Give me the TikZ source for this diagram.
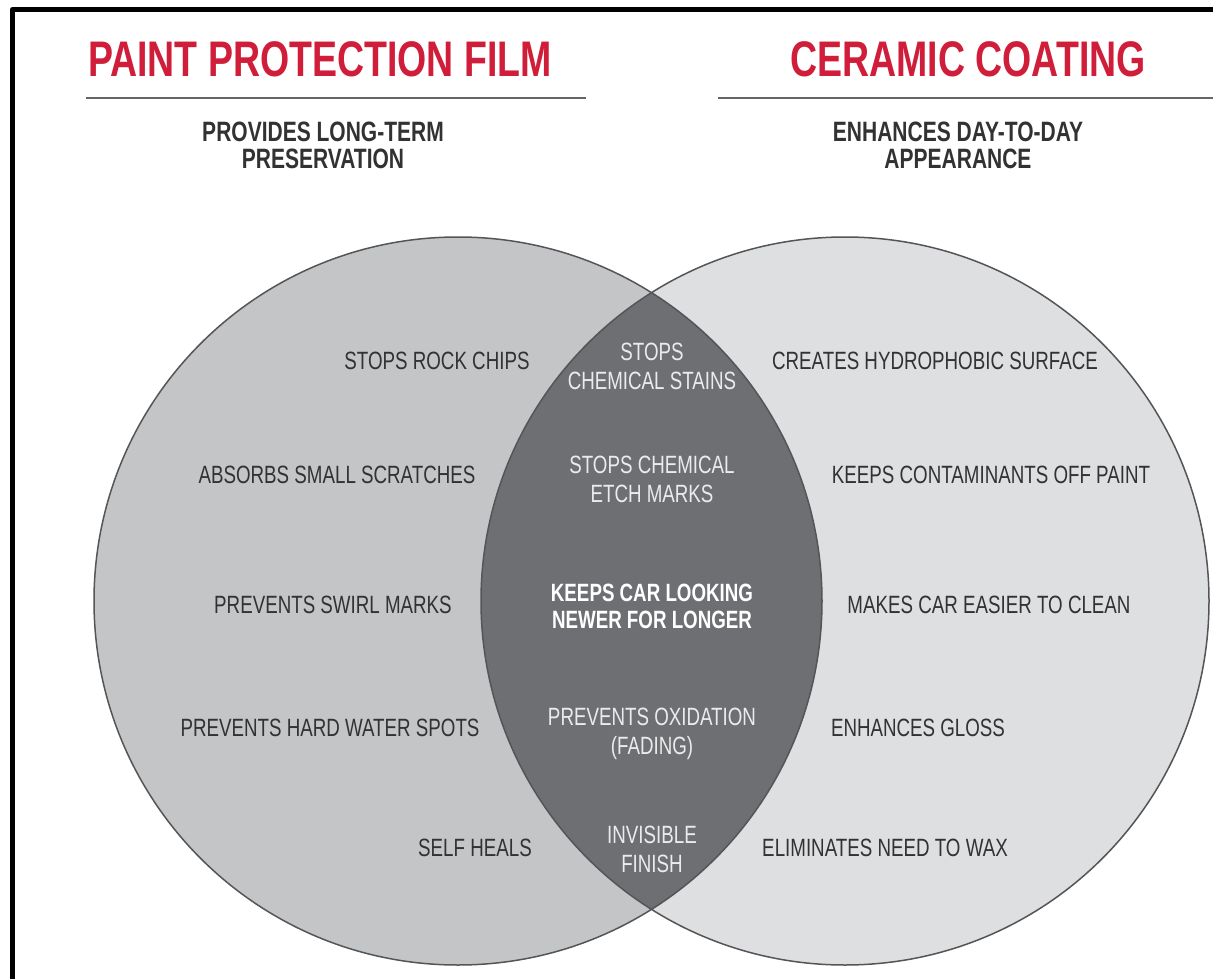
\documentclass[tikz,border=0pt]{standalone}
\usepackage{fontspec}
\setmainfont{Liberation Sans}[FakeStretch=0.75]
\usepackage{xcolor}

\definecolor{pfred}{RGB}{208,30,58}
\definecolor{leftgray}{RGB}{196,197,198}
\definecolor{rightgray}{RGB}{222,223,224}
\definecolor{lensgray}{RGB}{110,111,115}
\definecolor{rimgray}{RGB}{85,85,88}
\definecolor{inkgray}{RGB}{50,50,52}

\begin{document}
\begin{tikzpicture}[x=1pt, y=-1pt,
    title/.style={text=pfred, font=\fontsize{50}{56}\selectfont\bfseries, inner sep=0pt},
    subtitle/.style={text=inkgray, font=\fontsize{28}{27}\selectfont\bfseries, align=center, inner sep=0pt},
    item/.style={text=inkgray, font=\fontsize{25}{29}\selectfont, align=center, inner sep=0pt},
    lensitem/.style={item, text=white!92!black},
    rule/.style={draw=black!60, line width=2pt},
    rim/.style={draw=rimgray, line width=1.5pt}]

      \useasboundingbox (0,0) rectangle (1213,979);
      \fill[white] (0,0) rectangle (1213,979);

      % frame
      \draw[line width=5pt, line join=round] (12.5,979) -- (12.5,9.5) -- (1213,9.5);

      % headings
      \node[title] (pff) at (320,59) {PAINT PROTECTION FILM};
      \node[title] (cc) at (968,59) {CERAMIC COATING};
      \draw[rule] (86,98) -- (586,98);
      \draw[rule] (718,98) -- (1213,98);
      \node[subtitle] (pffsub) at (323,145) {PROVIDES LONG-TERM\\PRESERVATION};
      \node[subtitle] (ccsub) at (958,145) {ENHANCES DAY-TO-DAY\\APPEARANCE};

      % circles and the lens
      \fill[leftgray] (458,601) circle (364pt);
      \fill[rightgray] (845,601) circle (364pt);
      \begin{scope}
        \clip (458,601) circle (364pt);
        \fill[lensgray] (845,601) circle (364pt);
      \end{scope}
      \draw[rim] (458,601) circle (364pt) (845,601) circle (364pt);

      % film only
      \node[item] (chips) at (437,361) {STOPS ROCK CHIPS};
      \node[item] (scratch) at (337,475) {ABSORBS SMALL SCRATCHES};
      \node[item] (swirl) at (333,605) {PREVENTS SWIRL MARKS};
      \node[item] (water) at (330,728) {PREVENTS HARD WATER SPOTS};
      \node[item] (heals) at (475,848) {SELF HEALS};

      % both
      \node[lensitem] (stains) at (652,366) {STOPS\\CHEMICAL STAINS};
      \node[lensitem] (etch) at (652,479) {STOPS CHEMICAL\\ETCH MARKS};
      \node[lensitem, font=\fontsize{25}{27}\selectfont\bfseries, text=white] (newer) at (652,606) {KEEPS CAR LOOKING\\NEWER FOR LONGER};
      \node[lensitem] (oxid) at (652,734) {PREVENTS OXIDATION\\(FADING)};
      \node[lensitem] (finish) at (652,849) {INVISIBLE\\FINISH};

      % coating only
      \node[item] (hydro) at (935,361) {CREATES HYDROPHOBIC SURFACE};
      \node[item] (contam) at (991,475) {KEEPS CONTAMINANTS OFF PAINT};
      \node[item] (clean) at (989,605) {MAKES CAR EASIER TO CLEAN};
      \node[item] (gloss) at (918,728) {ENHANCES GLOSS};
      \node[item] (wax) at (885,848) {ELIMINATES NEED TO WAX};

    \end{tikzpicture}
\end{document}
